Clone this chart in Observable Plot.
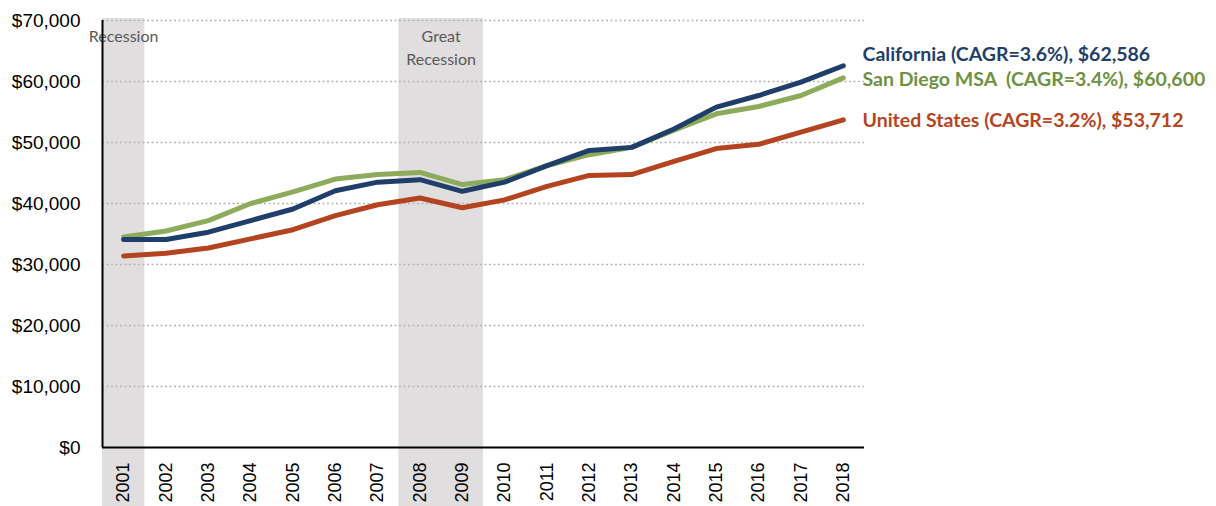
<!DOCTYPE html>
<html><head><meta charset="utf-8">
<script src="https://cdn.jsdelivr.net/npm/d3@7"></script>
<script src="https://cdn.jsdelivr.net/npm/@observablehq/plot@0.6"></script>
<style>
  body { margin: 0; background: #fff; }
  svg text { white-space: pre; }
</style>
</head><body><div id="chart"></div>
<script>
const years = [2001,2002,2003,2004,2005,2006,2007,2008,2009,2010,2011,2012,2013,2014,2015,2016,2017,2018];
const california   = [34100,34100,35300,37200,39100,42100,43500,43900,42000,43500,46200,48700,49200,52200,55800,57700,59900,62586];
const sanDiego     = [34500,35500,37200,40000,41900,44000,44750,45100,43100,43900,46200,48000,49200,52000,54700,55900,57700,60600];
const unitedStates = [31400,31850,32700,34200,35700,38000,39800,40900,39300,40600,42800,44600,44750,46900,49000,49700,51700,53712];
const seriesLabels = [
  "California (CAGR=3.6%), $62,586",
  "San Diego MSA  (CAGR=3.4%), $60,600",
  "United States (CAGR=3.2%), $53,712"
];
const yTicks = [0,10000,20000,30000,40000,50000,60000,70000];
const recessionStart = [2001, 2008];
const recessionEnd   = [2001, 2009];
const recessionLabel = ["Recession", "Great\nRecession"];

const colBlue = "#1f3f6a", colGreen = "#8cab5b", colRed = "#b3441f";
const labBlue = "#1f3f6a", labGreen = "#6f9143", labRed = "#b4451f";

const xMin = years[0] - 0.5, xMax = years[years.length - 1] + 0.5;
const yMax = yTicks[yTicks.length - 1];
const last = years.length - 1;
const recIdx = recessionStart.map((_, i) => i);
const lineOpts = {x: d => d, strokeWidth: 5, strokeLinecap: "round", strokeLinejoin: "round"};
const labelFont = "Lato, 'Open Sans', sans-serif";

const chart = Plot.plot({
  width: 1216, height: 506,
  marginLeft: 102, marginRight: 352, marginTop: 20, marginBottom: 59,
  x: {type: "linear", domain: [xMin, xMax], axis: null},
  y: {domain: [0, yMax], axis: null},
  style: {fontFamily: "'Liberation Sans', Arial, sans-serif", background: "#fff", color: "#000"},
  marks: [
    Plot.rect(recIdx, {x1: i => recessionStart[i] - 0.5, x2: i => recessionEnd[i] + 0.5, y1: 0, y2: yMax,
      fill: "#e0dedf", insetBottom: -59, insetTop: -2}),
    Plot.ruleY(yTicks.filter(d => d > 0), {stroke: "#b5b5b5", strokeDasharray: "2,2.5", strokeWidth: 1.5}),
    Plot.text(recIdx, {x: i => (recessionStart[i] + recessionEnd[i]) / 2, y: yMax, text: i => recessionLabel[i],
      lineAnchor: "top", dy: 6, fontSize: 16, lineHeight: 1.4, fill: "#595959", fontFamily: labelFont}),
    Plot.line(years, {...lineOpts, y: (d, i) => unitedStates[i], stroke: colRed}),
    Plot.line(years, {...lineOpts, y: (d, i) => sanDiego[i], stroke: colGreen}),
    Plot.line(years, {...lineOpts, y: (d, i) => california[i], stroke: colBlue}),
    Plot.ruleX([xMin], {y1: 0, y2: yMax, stroke: "#000", strokeWidth: 2}),
    Plot.ruleY([0], {stroke: "#000", strokeWidth: 2}),
    Plot.text(yTicks, {x: xMin, y: d => d, text: d => "$" + d3.format(",")(d), textAnchor: "end", dx: -22, fontSize: 19, fill: "#000"}),
    Plot.text(years, {x: d => d, y: 0, text: d => String(d), rotate: -90, textAnchor: "end", dy: 15, fontSize: 18, fill: "#000"}),
    Plot.text([0], {x: xMax, y: () => california[last], text: () => seriesLabels[0], textAnchor: "start", dx: -2, dy: -11,
      fill: labBlue, fontSize: 19.5, fontWeight: "bold", fontFamily: labelFont}),
    Plot.text([0], {x: xMax, y: () => sanDiego[last], text: () => seriesLabels[1], textAnchor: "start", dx: -2, dy: 2,
      fill: labGreen, fontSize: 19.5, fontWeight: "bold", fontFamily: labelFont}),
    Plot.text([0], {x: xMax, y: () => unitedStates[last], text: () => seriesLabels[2], textAnchor: "start", dx: -2, dy: 1,
      fill: labRed, fontSize: 19.5, fontWeight: "bold", fontFamily: labelFont})
  ]
});
document.getElementById("chart").appendChild(chart);
</script>
</body></html>
